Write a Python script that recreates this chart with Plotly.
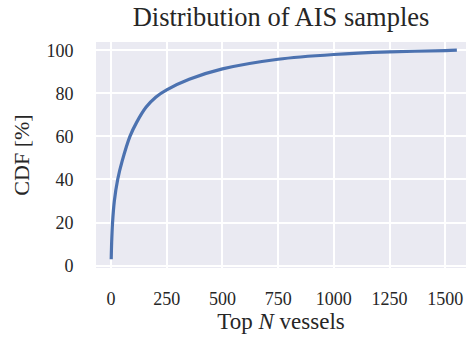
import plotly.graph_objects as go

# Data
top_n = [1, 3, 7, 15, 30, 50, 85, 115, 157, 202, 250, 351, 500, 750, 1000, 1250, 1500, 1552]
cdf_pct = [3.0, 11.0, 20.0, 30.0, 40.0, 48.5, 60.0, 66.5, 73.5, 78.3, 81.6, 86.5, 91.3, 95.8, 98.0, 99.2, 99.8, 100.0]

x_ticks = [0, 250, 500, 750, 1000, 1250, 1500]
y_ticks = [0, 20, 40, 60, 80, 100]

FONT = "Liberation Serif"
TXT = "#262626"

fig = go.Figure()
fig.add_trace(go.Scatter(
    x=top_n, y=cdf_pct, mode="lines",
    line=dict(color="#4C72B0", width=3.2, shape="spline", smoothing=0.8),
    showlegend=False,
))

fig.update_layout(
    width=466, height=338,
    margin=dict(l=96, r=0, t=42, b=70),
    paper_bgcolor="white",
    plot_bgcolor="#EAEAF2",
    font=dict(family=FONT, color=TXT, size=18),
    title=dict(text="Distribution of AIS samples", x=0.5, xanchor="center",
               xref="paper", y=0.95, yanchor="middle",
               font=dict(family=FONT, size=26.5, color=TXT)),
)
fig.update_xaxes(
    range=[-67.3, 1593], tickvals=x_ticks, ticktext=[str(v) for v in x_ticks],
    showgrid=True, gridcolor="white", gridwidth=2, zeroline=False,
    showline=False, ticks="outside", ticklen=14, tickcolor="rgba(0,0,0,0)",
    tickfont=dict(size=18),
    title=dict(text="Top <i>N</i> vessels", font=dict(size=23), standoff=5),
)
fig.update_yaxes(
    range=[-1.1, 103.8], tickvals=y_ticks, ticktext=[str(v) for v in y_ticks],
    showgrid=True, gridcolor="white", gridwidth=2, zeroline=False,
    showline=False, ticks="outside", ticklen=18, tickcolor="rgba(0,0,0,0)",
    tickfont=dict(size=18),
    title=dict(text="CDF [%]", font=dict(size=22), standoff=10),
)

fig.write_html("out.html")
